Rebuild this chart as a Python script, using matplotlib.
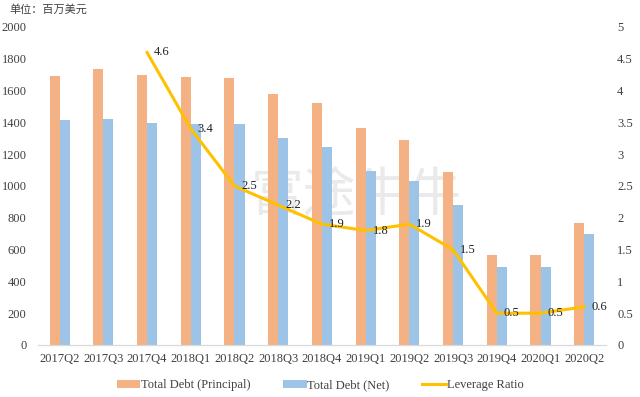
import matplotlib.pyplot as plt
import numpy as np

quarters = ['2017Q2', '2017Q3', '2017Q4', '2018Q1', '2018Q2', '2018Q3', '2018Q4',
            '2019Q1', '2019Q2', '2019Q3', '2019Q4', '2020Q1', '2020Q2']
debt_principal = [1693, 1737, 1699, 1687, 1680, 1580, 1524, 1367, 1292, 1085, 564, 564, 765]
debt_net = [1417, 1423, 1398, 1392, 1392, 1304, 1248, 1097, 1034, 878, 489, 489, 696]
lev_quarters = quarters[2:]
leverage = [4.6, 3.4, 2.5, 2.2, 1.9, 1.8, 1.9, 1.5, 0.5, 0.5, 0.6]

plt.rcParams['font.family'] = ['Liberation Serif', 'Noto Sans CJK SC']

fig = plt.figure(figsize=(6.4, 3.97), dpi=100)
ax = fig.add_axes([0.059, 0.131, 0.888, 0.801])

x = np.arange(len(quarters))
w = 0.23
ax.bar(x - w / 2, debt_principal, w, color='#F4B183', label='Total Debt (Principal)', zorder=2)
ax.bar(x + w / 2, debt_net, w, color='#9DC3E6', label='Total Debt (Net)', zorder=2)
ax.set_ylim(0, 2000)
ax.set_yticks(range(0, 2001, 200))
ax.set_xlim(-0.5, len(quarters) - 0.5)
ax.set_xticks(x)
ax.set_xticklabels(quarters)

# watermark, behind the bars
ax.text(0.56, 0.47, '富途牛牛', transform=ax.transAxes, fontsize=38, color='#EAEAEA',
        family='Noto Sans CJK SC', weight='medium', ha='center', va='center', zorder=1)

ax2 = ax.twinx()
lx = [quarters.index(q) for q in lev_quarters]
ax2.plot(lx, leverage, color='#FFC000', lw=2.2, label='Leverage Ratio', zorder=3)
for xi, v in zip(lx, leverage):
    ax2.annotate(f'{v}', (xi, v), xytext=(5, 0), textcoords='offset points',
                 ha='left', va='center', fontsize=9, color='#222222')
ax2.set_ylim(0, 5)
ax2.set_yticks(np.arange(0, 5.01, 0.5))
ax2.set_yticklabels(['0', '0.5', '1', '1.5', '2', '2.5', '3', '3.5', '4', '4.5', '5'])

for a in (ax, ax2):
    for s in ('top', 'left', 'right'):
        a.spines[s].set_visible(False)
    a.spines['bottom'].set_color('#D9D9D9')
    a.tick_params(length=0, labelsize=9, colors='#404040')
ax.tick_params(axis='x', pad=6)
ax.tick_params(axis='y', pad=8)
ax2.tick_params(axis='y', pad=8)

fig.text(0.015, 0.975, '单位：百万美元', fontsize=8, color='#404040',
         family='Noto Sans CJK SC', ha='left', va='center', style='italic')

h1, l1 = ax.get_legend_handles_labels()
h2, l2 = ax2.get_legend_handles_labels()
fig.legend(h1 + h2, l1 + l2, loc='center', bbox_to_anchor=(0.5, 0.03), ncol=3,
           frameon=False, fontsize=9, handlelength=1.9, handleheight=0.6,
           columnspacing=2.6, handletextpad=0.05, labelcolor='#404040')

fig.savefig('out.png', dpi=100)
